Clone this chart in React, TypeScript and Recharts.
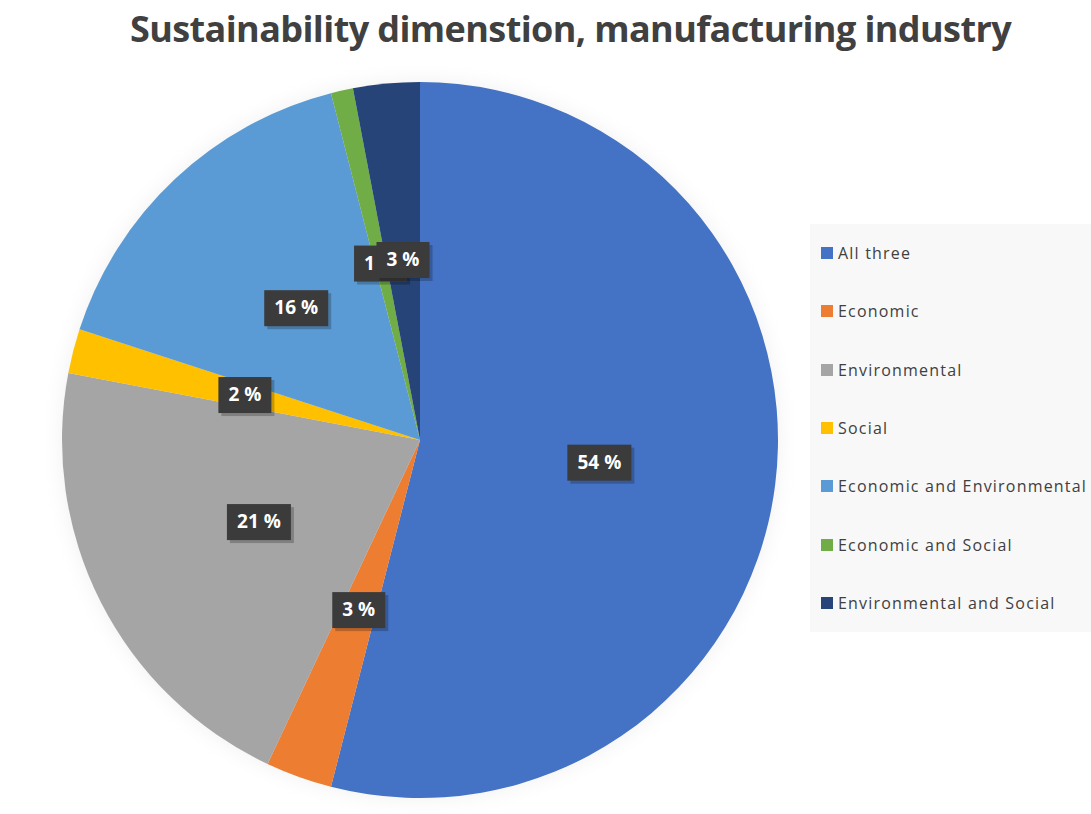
import { PieChart, Pie, Cell, Legend } from 'recharts'

const categories = [
  'All three',
  'Economic',
  'Environmental',
  'Social',
  'Economic and Environmental',
  'Economic and Social',
  'Environmental and Social',
]
const shares = [54, 3, 21, 2, 16, 1, 3]
const colors = ['#4472C4', '#ED7D31', '#A5A5A5', '#FFC000', '#5B9BD5', '#70AD47', '#264478']

const data = categories.map((name, i) => ({ name, value: shares[i] }))

const RAD = Math.PI / 180

// dark call-out box with white percentage, like the Excel data labels
function renderLabel(props: any) {
  const { cx, cy, midAngle, outerRadius, value } = props
  const r = outerRadius * 0.505
  const x = cx + r * Math.cos(-midAngle * RAD)
  const y = cy + r * Math.sin(-midAngle * RAD)
  const text = `${value} %`
  const w = text.length * 11 + 20
  const h = 36
  return (
    <g>
      <rect x={x - w / 2 + 3} y={y - h / 2 + 3} width={w} height={h} fill="rgba(0,0,0,0.22)" />
      <rect x={x - w / 2} y={y - h / 2} width={w} height={h} fill="#3b3b3b" />
      <text
        x={x}
        y={y + 1}
        fill="#ffffff"
        fontSize={19}
        fontWeight={700}
        fontFamily="'Open Sans', sans-serif"
        textAnchor="middle"
        dominantBaseline="middle"
      >
        {text}
      </text>
    </g>
  )
}

function LegendBox() {
  return (
    <div
      style={{
        background: '#f8f8f8',
        width: 281,
        height: 408,
        boxSizing: 'border-box',
        paddingLeft: 11,
      }}
    >
      {data.map((d, i) => (
        <div key={d.name} style={{ display: 'flex', alignItems: 'center', height: 58.3 }}>
          <span
            style={{
              width: 12,
              height: 12,
              background: colors[i],
              display: 'inline-block',
              marginRight: 5,
            }}
          />
          <span
            style={{
              fontFamily: "'Open Sans', sans-serif",
              fontSize: 16,
              color: '#404040',
              letterSpacing: 1.2,
              whiteSpace: 'nowrap',
            }}
          >
            {d.name}
          </span>
        </div>
      ))}
    </div>
  )
}

export default function App() {
  return (
    <div
      style={{
        position: 'absolute',
        left: 0,
        top: 0,
        width: 1091,
        height: 814,
        background: '#ffffff',
        overflow: 'hidden',
      }}
    >
      <div
        style={{
          position: 'absolute',
          left: 0,
          width: 1091,
          top: 4,
          textAlign: 'center',
          paddingLeft: 50,
          boxSizing: 'border-box',
          fontFamily: "'Open Sans', sans-serif",
          fontWeight: 700,
          fontSize: 36,
          color: '#404040',
          letterSpacing: -0.6,
        }}
      >
        Sustainability dimenstion, manufacturing industry
      </div>
      <PieChart
        width={1091}
        height={814}
        margin={{ top: 0, right: 0, bottom: 0, left: 0 }}
        style={{ position: 'absolute', left: 0, top: 0 }}
      >
        <defs>
          <radialGradient id="glow">
            <stop offset="90%" stopColor="#e8e8e8" />
            <stop offset="100%" stopColor="#ffffff" stopOpacity={0} />
          </radialGradient>
        </defs>
        <Pie
          data={[{ name: 'bg', value: 1 }]}
          dataKey="value"
          cx={420}
          cy={440}
          outerRadius={380}
          fill="url(#glow)"
          stroke="none"
          isAnimationActive={false}
          legendType="none"
        />
        <Pie
          data={data}
          dataKey="value"
          nameKey="name"
          cx={420}
          cy={440}
          outerRadius={358}
          startAngle={90}
          endAngle={-270}
          stroke="none"
          label={renderLabel}
          labelLine={false}
          isAnimationActive={false}
        >
          {data.map((d, i) => (
            <Cell key={d.name} fill={colors[i]} />
          ))}
        </Pie>
        <Legend
          layout="vertical"
          align="right"
          verticalAlign="top"
          wrapperStyle={{ left: 810, top: 224, width: 281 }}
          content={() => <LegendBox />}
        />
      </PieChart>
    </div>
  )
}
